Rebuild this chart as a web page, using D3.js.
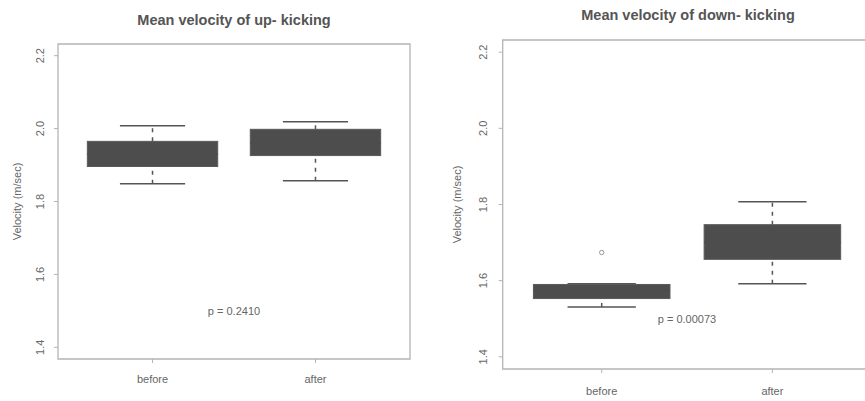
<!DOCTYPE html>
<html>
<head>
  <script src="https://d3js.org/d3.v7.min.js"></script>
  <title>Mean velocity of kicking</title>
  <style>
  body { margin: 0; background: white; }
  svg text { font-family: "Liberation Sans", Arial, sans-serif; fill: #666; }
  </style>
</head>
<body>
<svg id="chart" width="865" height="401"></svg>
<script>
// group names
var groups = ["before", "after"];
var yTicks = [1.4, 1.6, 1.8, 2.0, 2.2];

// box stats: [lower whisker, q1, median, q3, upper whisker]
var upBefore = [1.849, 1.896, 1.93, 1.965, 2.008];
var upAfter = [1.857, 1.926, 1.96, 1.998, 2.019];
var downBefore = [1.531, 1.553, 1.575, 1.590, 1.592];
var downAfter = [1.592, 1.656, 1.70, 1.747, 1.807];
var downBeforeOutliers = [1.674];

var svg = d3.select("#chart");

var boxColor = "#4d4d4d";
var lineColor = "#555";
var frameColor = "#b4b4b4";

function panel(opt) {
  var g = svg.append("g");
  var xs = d3.scaleLinear().domain([0.42, 2.58]).range([opt.left, opt.right]);
  var ys = d3.scaleLinear().domain([1.368, 2.232]).range([opt.bottom, opt.top]);

  // frame
  g.append("path")
    .attr("d", "M" + xs(2.58) + "," + ys(2.232) + " H" + xs(0.42) + " V" + ys(1.368) + " H" + xs(2.58) + (opt.closed ? " Z" : ""))
    .attr("fill", "none")
    .attr("stroke", frameColor)
    .attr("stroke-width", 1.3);

  // y axis ticks + rotated labels
  yTicks.forEach(function(t) {
    g.append("line")
      .attr("x1", xs(0.42) - 4).attr("x2", xs(0.42))
      .attr("y1", ys(t)).attr("y2", ys(t))
      .attr("stroke", frameColor);
    g.append("text")
      .attr("transform", "translate(" + opt.tickX + "," + ys(t) + ") rotate(-90)")
      .attr("text-anchor", "middle")
      .style("font-size", "11px")
      .text(d3.format(".1f")(t));
  });

  // x ticks + labels
  groups.forEach(function(name, i) {
    g.append("line")
      .attr("x1", xs(i + 1)).attr("x2", xs(i + 1))
      .attr("y1", ys(1.368)).attr("y2", ys(1.368) + 4)
      .attr("stroke", frameColor);
    g.append("text")
      .attr("x", xs(i + 1)).attr("y", opt.xLabelY)
      .attr("text-anchor", "middle")
      .style("font-size", "11px")
      .text(name);
  });

  // boxes
  opt.stats.forEach(function(s, i) {
    var cx = xs(i + 1);
    var bw = xs(0.8) - xs(0);
    var cw = bw / 2;
    // whiskers
    [[s[0], s[1]], [s[3], s[4]]].forEach(function(w) {
      g.append("line")
        .attr("x1", cx).attr("x2", cx)
        .attr("y1", ys(w[0])).attr("y2", ys(w[1]))
        .attr("stroke", lineColor)
        .attr("stroke-width", 1.5)
        .attr("stroke-dasharray", "4,5");
    });
    [s[0], s[4]].forEach(function(v) {
      g.append("line")
        .attr("x1", cx - cw / 2).attr("x2", cx + cw / 2)
        .attr("y1", ys(v)).attr("y2", ys(v))
        .attr("stroke", lineColor)
        .attr("stroke-width", 1.5);
    });
    g.append("rect")
      .attr("x", cx - bw / 2)
      .attr("y", ys(s[3]))
      .attr("width", bw)
      .attr("height", ys(s[1]) - ys(s[3]))
      .attr("fill", boxColor)
      .attr("stroke", "#5a5a5a")
      .attr("stroke-width", 1);
    g.append("line")
      .attr("x1", cx - bw / 2).attr("x2", cx + bw / 2)
      .attr("y1", ys(s[2])).attr("y2", ys(s[2]))
      .attr("stroke", boxColor)
      .attr("stroke-width", 2);
  });

  // outliers
  opt.outliers.forEach(function(o, i) {
    o.forEach(function(v) {
      g.append("circle")
        .attr("cx", xs(i + 1)).attr("cy", ys(v))
        .attr("r", 2.2)
        .attr("fill", "none")
        .attr("stroke", "#999")
        .attr("stroke-width", 1);
    });
  });

  // title
  g.append("text")
    .attr("x", opt.titleX).attr("y", opt.titleY)
    .attr("text-anchor", "middle")
    .style("font-size", "14.5px")
    .style("font-weight", "bold")
    .style("fill", "#555")
    .text(opt.title);

  // y label
  g.append("text")
    .attr("transform", "translate(" + opt.yLabelX + "," + ((opt.top + opt.bottom) / 2) + ") rotate(-90)")
    .attr("text-anchor", "middle")
    .style("font-size", "11px")
    .text("Velocity (m/sec)");

  // p value
  g.append("text")
    .attr("x", opt.pX).attr("y", opt.pY)
    .attr("text-anchor", "middle")
    .style("font-size", "11px")
    .text(opt.p);
}

panel({
  left: 58, right: 410, top: 44, bottom: 359, closed: true,
  stats: [upBefore, upAfter], outliers: [[], []],
  title: "Mean velocity of up- kicking", titleX: 234, titleY: 25,
  tickX: 44, yLabelX: 21, xLabelY: 383,
  p: "p = 0.2410", pX: 234, pY: 315
});

panel({
  left: 502.7, right: 871.4, top: 40, bottom: 369, closed: false,
  stats: [downBefore, downAfter], outliers: [downBeforeOutliers, []],
  title: "Mean velocity of down- kicking", titleX: 688, titleY: 20,
  tickX: 487, yLabelX: 461, xLabelY: 395,
  p: "p = 0.00073", pX: 687, pY: 323
});
</script>
</body>
</html>
